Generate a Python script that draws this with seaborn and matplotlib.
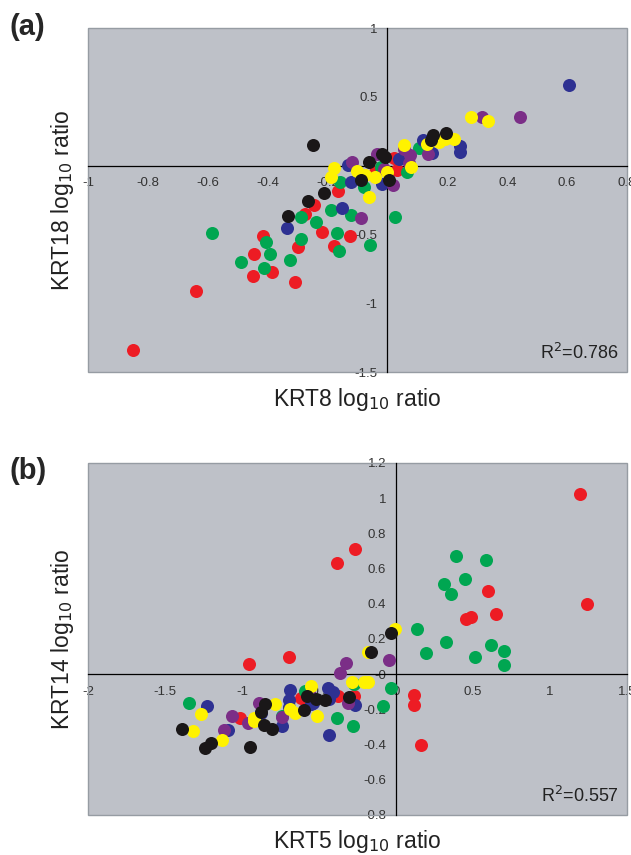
import numpy as np
import pandas as pd
import matplotlib
matplotlib.use("Agg")
import matplotlib.pyplot as plt
import seaborn as sns
from matplotlib.patches import Rectangle
from matplotlib.ticker import FormatStrFormatter

sns.set_style("white")
plt.rcParams['font.family'] = ['Liberation Sans', 'DejaVu Sans']

# colour groups (drawing order)
groups = ['red', 'green', 'blue', 'purple', 'yellow', 'black']
palette = {'red': '#ED1C24', 'green': '#00A651', 'blue': '#2E3192',
           'purple': '#7B2E87', 'yellow': '#FFF200', 'black': '#1A1718'}

# ---- panel (a): KRT8 vs KRT18 ----
a_red_x = [-0.849, -0.638, -0.449, -0.447, -0.415, -0.386, -0.308, -0.300, -0.274, -0.245,
           -0.218, -0.177, -0.164, -0.125, -0.041, 0.021, 0.031]
a_red_y = [-1.339, -0.910, -0.800, -0.639, -0.514, -0.771, -0.844, -0.595, -0.355, -0.283,
           -0.481, -0.582, -0.187, -0.508, -0.046, 0.057, -0.035]
a_green_x = [-0.587, -0.490, -0.413, -0.406, -0.391, -0.324, -0.289, -0.290, -0.239, -0.189,
             -0.168, -0.162, -0.160, -0.121, -0.078, -0.060, -0.021, 0.025, 0.064, 0.104]
a_green_y = [-0.488, -0.702, -0.746, -0.556, -0.641, -0.683, -0.374, -0.532, -0.408, -0.321,
             -0.492, -0.617, -0.121, -0.359, -0.158, -0.580, -0.010, -0.376, -0.048, 0.131]
a_blue_x = [0.606, 0.241, 0.241, 0.150, 0.117, 0.037, -0.018, -0.121, -0.131, -0.153, -0.337]
a_blue_y = [0.583, 0.146, 0.100, 0.090, 0.185, 0.045, -0.136, -0.121, 0.003, -0.308, -0.451]
a_purple_x = [0.443, 0.317, 0.137, 0.074, 0.072, 0.056, 0.017, -0.010, -0.036, -0.120, -0.088]
a_purple_y = [0.354, 0.350, 0.085, 0.075, 0.020, 0.124, -0.144, -0.022, 0.087, 0.030, -0.378]
a_yellow_x = [0.279, 0.337, 0.222, 0.172, 0.192, 0.133, 0.056, 0.078, -0.040, -0.062,
              -0.075, -0.102, -0.178, -0.189, 0.000]
a_yellow_y = [0.350, 0.325, 0.190, 0.169, 0.195, 0.155, 0.152, -0.007, -0.082, -0.228,
              -0.068, -0.041, -0.015, -0.080, -0.043]
a_black_x = [-0.248, -0.333, -0.264, -0.211, -0.063, -0.090, -0.017, -0.008, 0.005, 0.152, 0.197, 0.145]
a_black_y = [0.148, -0.363, -0.258, -0.200, 0.024, -0.108, 0.087, 0.062, -0.105, 0.220, 0.236, 0.188]

# ---- panel (b): KRT5 vs KRT14 ----
b_red_x = [1.195, 1.239, 0.598, 0.648, 0.457, 0.484, -0.382, -0.266, -0.693, -0.955,
           0.114, 0.117, 0.164, -1.013, -0.619, -0.378, -0.275]
b_red_y = [1.023, 0.396, 0.474, 0.340, 0.312, 0.327, 0.633, 0.711, 0.097, 0.058,
           -0.117, -0.174, -0.401, -0.247, -0.134, -0.126, -0.126]
b_green_x = [0.389, 0.586, 0.450, 0.311, 0.359, 0.134, 0.327, 0.197, 0.616, 0.700,
             0.514, 0.700, -0.034, -0.085, -0.277, -0.386, -0.273, -0.590, -1.343, -0.742]
b_green_y = [0.669, 0.648, 0.541, 0.511, 0.453, 0.256, 0.182, 0.119, 0.166, 0.132,
             0.098, 0.052, -0.077, -0.180, -0.293, -0.247, -0.055, -0.095, -0.164, -0.240]
b_blue_x = [-1.229, -1.094, -0.741, -0.876, -0.697, -0.695, -0.686, -0.444, -0.408, -0.537,
            -0.436, -0.268, -0.438, -0.550]
b_blue_y = [-0.183, -0.316, -0.294, -0.220, -0.188, -0.145, -0.088, -0.077, -0.104, -0.162,
            -0.343, -0.175, -0.140, -0.170]
b_purple_x = [-1.065, -1.118, -0.963, -0.891, -0.743, -0.363, -0.326, -0.048, -0.315, -0.560]
b_purple_y = [-0.238, -0.318, -0.276, -0.162, -0.244, 0.004, 0.061, 0.083, -0.163, -0.120]
b_yellow_x = [-1.320, -1.267, -1.132, -0.920, -0.925, -0.783, -0.655, -0.550, -0.511, -0.283,
              -0.210, -0.185, -0.180, -0.005, -0.690]
b_yellow_y = [-0.324, -0.225, -0.374, -0.248, -0.265, -0.171, -0.222, -0.068, -0.238, -0.046,
              -0.044, -0.046, 0.128, 0.256, -0.200]
b_black_x = [-1.391, -1.239, -1.200, -0.946, -0.848, -0.876, -0.859, -0.804, -0.598, -0.576,
             -0.522, -0.463, -0.304, -0.163, -0.032]
b_black_y = [-0.310, -0.419, -0.390, -0.415, -0.172, -0.213, -0.286, -0.309, -0.206, -0.124,
             -0.143, -0.147, -0.128, 0.124, 0.235]


def make_df(xs, ys):
    frames = []
    for g, x, y in zip(groups, xs, ys):
        frames.append(pd.DataFrame({'x': x, 'y': y, 'group': g}))
    return pd.concat(frames, ignore_index=True)


df_a = make_df([a_red_x, a_green_x, a_blue_x, a_purple_x, a_yellow_x, a_black_x],
               [a_red_y, a_green_y, a_blue_y, a_purple_y, a_yellow_y, a_black_y])
df_b = make_df([b_red_x, b_green_x, b_blue_x, b_purple_x, b_yellow_x, b_black_x],
               [b_red_y, b_green_y, b_blue_y, b_purple_y, b_yellow_y, b_black_y])


def style_panel(ax, df, xlim, ylim, xticks, yticks, xlabel, ylabel, r2, xlab_y):
    ax.set_facecolor('#BEC1C8')
    for g in groups:
        sub = df[df['group'] == g]
        sns.scatterplot(data=sub, x='x', y='y', color=palette[g], s=88,
                        linewidth=0, ax=ax, legend=False, zorder=3)
    ax.set_xlim(*xlim)
    ax.set_ylim(*ylim)
    ax.set_xticks(xticks)
    ax.set_yticks(yticks)
    ax.xaxis.set_major_formatter(FormatStrFormatter('%g'))
    ax.yaxis.set_major_formatter(FormatStrFormatter('%g'))
    ax.spines['left'].set_position(('data', 0))
    ax.spines['bottom'].set_position(('data', 0))
    ax.spines['top'].set_visible(False)
    ax.spines['right'].set_visible(False)
    for s in ['left', 'bottom']:
        ax.spines[s].set_color('black')
        ax.spines[s].set_linewidth(0.9)
        ax.spines[s].set_zorder(2)
    ax.tick_params(axis='both', direction='out', length=3.5, width=0.8,
                   labelsize=9.5, colors='#333333')
    ax.tick_params(axis='x', pad=5)
    ax.tick_params(axis='y', pad=3.5)
    ax.add_patch(Rectangle((0, 0), 1, 1, transform=ax.transAxes, fill=False,
                           edgecolor='#969CA3', lw=1.0, clip_on=False, zorder=1))
    ax.set_xlabel(xlabel, fontsize=16.5, color='#222222')
    ax.set_ylabel(ylabel, fontsize=16.5, color='#222222')
    ax.xaxis.set_label_coords(0.5, xlab_y)
    ax.yaxis.set_label_coords(-0.022, 0.5)
    ax.text(0.985, 0.025, r2, transform=ax.transAxes, ha='right', va='bottom',
            fontsize=13, color='#222222')


fig = plt.figure(figsize=(6.31, 8.55), dpi=100)
ax_a = fig.add_axes([0.1395, 0.5649, 0.8542, 0.4023])
ax_b = fig.add_axes([0.1395, 0.0468, 0.8542, 0.4117])

style_panel(ax_a, df_a, (-1, 0.8), (-1.5, 1),
            np.arange(-1, 0.81, 0.2).round(1), np.arange(-1.5, 1.01, 0.5),
            'KRT8 log$_{10}$ ratio', 'KRT18 log$_{10}$ ratio', 'R$^2$=0.786', -0.042)
style_panel(ax_b, df_b, (-2, 1.5), (-0.8, 1.2),
            np.arange(-2, 1.51, 0.5), np.arange(-0.8, 1.21, 0.2).round(1),
            'KRT5 log$_{10}$ ratio', 'KRT14 log$_{10}$ ratio', 'R$^2$=0.557', -0.038)

fig.text(0.015, 0.968, '(a)', fontsize=21, fontweight='bold', va='center')
fig.text(0.015, 0.449, '(b)', fontsize=21, fontweight='bold', va='center')

fig.savefig('out.png', dpi=100)
